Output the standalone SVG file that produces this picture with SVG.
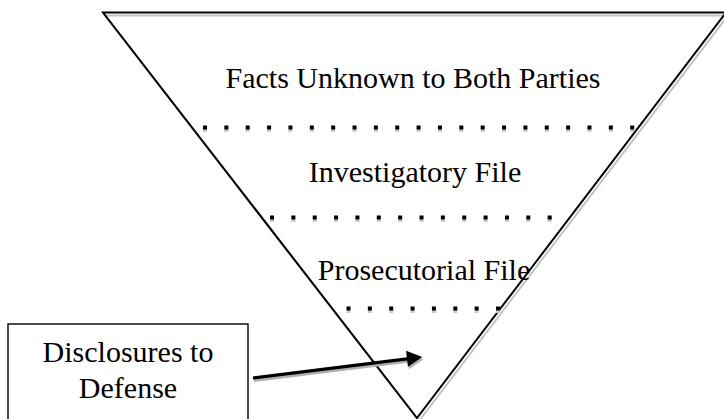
<svg xmlns="http://www.w3.org/2000/svg" width="724" height="419" viewBox="0 0 724 419">
  <style>
    .lbl { font-family: "Liberation Serif", "Times New Roman", serif; font-size: 30px; fill: #000; text-anchor: middle; }
    .edge { fill: none; stroke: #000; stroke-width: 2; stroke-linejoin: miter; }
    .edge-sh { fill: none; stroke: #c4c4c4; stroke-width: 2; }
    .dots { stroke: #000; stroke-width: 4; stroke-dasharray: 4 17.36; fill: none; }
    .dots-sh { stroke: #c8c8c8; stroke-width: 3; stroke-dasharray: 4 17.36; fill: none; }
    .box { fill: #fff; stroke: #000; stroke-width: 1.4; }
    .arrow { stroke: #000; stroke-width: 3.2; fill: none; }
    .arrow-sh { stroke: #b0b0b0; stroke-width: 3; fill: none; }
  </style>
  <defs>
    <marker id="head" markerUnits="userSpaceOnUse" markerWidth="16" markerHeight="17" refX="0" refY="8" orient="auto" overflow="visible">
      <path d="M0,0 L15.5,8 L0,16 z" fill="#000"/>
    </marker>
    <marker id="head-sh" markerUnits="userSpaceOnUse" markerWidth="16" markerHeight="17" refX="0" refY="8" orient="auto" overflow="visible">
      <path d="M0,0 L15.5,8 L0,16 z" fill="#b0b0b0"/>
    </marker>
  </defs>
  <rect x="0" y="0" width="724" height="419" fill="#fff"/>

  <g id="funnel">
    <polygon class="edge-sh" points="105,15.5 728,15.5 419,421"/>
    <polygon class="edge" points="103,12.5 726,12.5 417,418"/>
  </g>

  <g id="layer-facts">
    <line class="dots-sh" x1="203" y1="130.5" x2="640" y2="130.5"/>
    <line class="dots" x1="203" y1="127.5" x2="640" y2="127.5"/>
    <text class="lbl" x="413" y="88">Facts Unknown to Both Parties</text>
  </g>

  <g id="layer-investigatory">
    <line class="dots-sh" x1="270" y1="220.5" x2="556" y2="220.5"/>
    <line class="dots" x1="270" y1="217.5" x2="556" y2="217.5"/>
    <text class="lbl" x="415" y="182">Investigatory File</text>
  </g>

  <g id="layer-prosecutorial">
    <line class="dots-sh" x1="346.5" y1="311.5" x2="500" y2="311.5"/>
    <line class="dots" x1="346.5" y1="308.5" x2="500" y2="308.5"/>
    <text class="lbl" x="424" y="280">Prosecutorial File</text>
  </g>

  <g id="disclosures-box">
    <rect class="box" x="8" y="324" width="240" height="100"/>
    <text class="lbl" x="128" y="362">Disclosures to</text>
    <text class="lbl" x="128" y="398">Defense</text>
  </g>

  <g id="connectors">
    <line class="arrow-sh" x1="254" y1="380.5" x2="408" y2="361.3" marker-end="url(#head-sh)"/>
    <line class="arrow" x1="253" y1="378" x2="407" y2="358.8" marker-end="url(#head)"/>
  </g>
</svg>
